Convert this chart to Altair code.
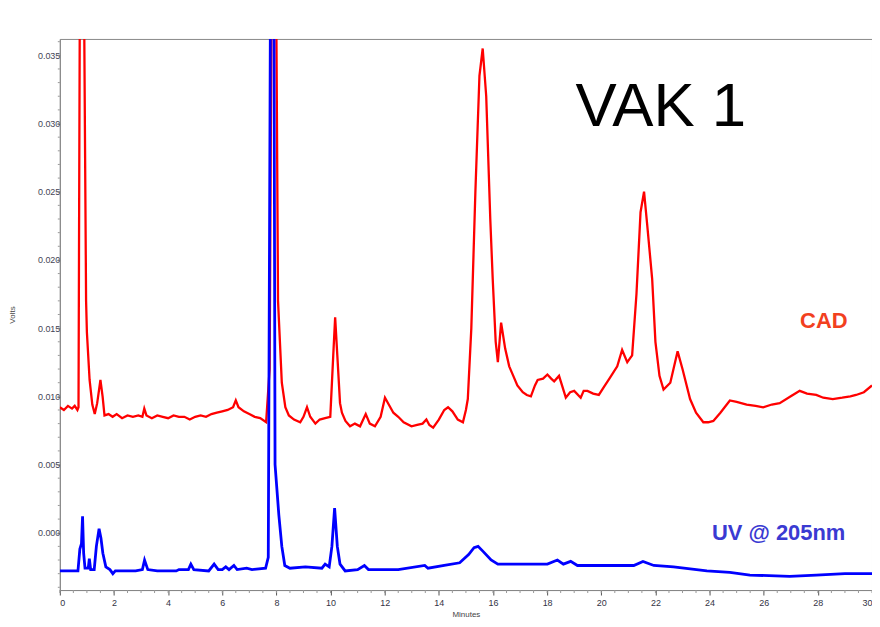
import altair as alt
import pandas as pd

# ---------------- data ----------------
cad_t = [0.0, 0.15, 0.3, 0.45, 0.55, 0.65, 0.69, 0.79, 0.97, 1.0, 1.1, 1.2, 1.29, 1.38, 1.5, 1.58, 1.65,
         1.8, 1.95, 2.1, 2.3, 2.5, 2.7, 2.9, 3.05, 3.12, 3.2, 3.4, 3.6, 3.8, 4.0, 4.2, 4.4, 4.6, 4.8,
         5.0, 5.2, 5.4, 5.6, 5.8, 6.0, 6.2, 6.4, 6.5, 6.6, 6.8, 7.0, 7.2, 7.4, 7.62, 7.75, 7.9, 8.06,
         8.2, 8.33, 8.46, 8.65, 8.88, 9.0, 9.13, 9.25, 9.44, 9.6, 9.8, 9.99, 10.1, 10.17, 10.25, 10.35,
         10.42, 10.55, 10.72, 10.9, 11.09, 11.3, 11.45, 11.64, 11.85, 12.01, 12.15, 12.32, 12.5, 12.7,
         12.99, 13.2, 13.4, 13.54, 13.65, 13.79, 14.0, 14.2, 14.34, 14.5, 14.7, 14.89, 15.0, 15.07,
         15.2, 15.35, 15.5, 15.62, 15.75, 15.9, 15.99, 16.1, 16.18, 16.3, 16.45, 16.6, 16.75, 16.9,
         17.1, 17.25, 17.4, 17.55, 17.65, 17.85, 18.01, 18.15, 18.26, 18.44, 18.55, 18.69, 18.85,
         19.0, 19.24, 19.35, 19.49, 19.7, 19.91, 20.1, 20.3, 20.59, 20.77, 20.96, 21.14, 21.3, 21.45,
         21.58, 21.7, 21.88, 22.0, 22.15, 22.3, 22.55, 22.82, 23.0, 23.28, 23.5, 23.77, 23.95, 24.14,
         24.4, 24.75, 25.0, 25.37, 25.7, 25.98, 26.3, 26.59, 27.0, 27.33, 27.6, 27.94, 28.2, 28.55,
         28.9, 29.2, 29.41, 29.7, 30.0]
cad_v = [0.0092, 0.0090, 0.0093, 0.0091, 0.0093, 0.0090, 0.0092, 0.0700, 0.0170, 0.0147, 0.0112,
         0.0094, 0.0087, 0.0095, 0.0112, 0.0100, 0.0086, 0.0087, 0.0085, 0.0087, 0.0084, 0.0086,
         0.0085, 0.0086, 0.0085, 0.0091, 0.0086, 0.0084, 0.0086, 0.0085, 0.0084, 0.0086, 0.0085,
         0.0085, 0.0083, 0.0085, 0.0086, 0.0085, 0.0087, 0.0088, 0.0089, 0.0090, 0.0092, 0.0097,
         0.0092, 0.0089, 0.0087, 0.0085, 0.0084, 0.0081, 0.0120, 0.0700, 0.0170, 0.0110, 0.0092,
         0.0086, 0.0083, 0.0081, 0.0085, 0.0092, 0.0085, 0.0080, 0.0083, 0.0084, 0.0085, 0.0130,
         0.0158, 0.0130, 0.0095, 0.0088, 0.0082, 0.0078, 0.0080, 0.0078, 0.0087, 0.0080, 0.0078,
         0.0085, 0.0099, 0.0094, 0.0088, 0.0085, 0.0081, 0.0078, 0.0079, 0.0080, 0.0083, 0.0079,
         0.0077, 0.0083, 0.0090, 0.0092, 0.0089, 0.0083, 0.0081, 0.0090, 0.0098, 0.0150, 0.0250,
         0.0335, 0.0355, 0.0320, 0.0230, 0.0186, 0.0140, 0.0125, 0.0154, 0.0135, 0.0122, 0.0115,
         0.0108, 0.0103, 0.0101, 0.0100, 0.0108, 0.0112, 0.0113, 0.0116, 0.0113, 0.0111, 0.0115,
         0.0108, 0.0099, 0.0103, 0.0104, 0.0099, 0.0104, 0.0104, 0.0102, 0.0101, 0.0107, 0.0113,
         0.0122, 0.0134, 0.0125, 0.0130, 0.0175, 0.0235, 0.0250, 0.0225, 0.0186, 0.0140, 0.0115,
         0.0105, 0.0110, 0.0133, 0.0120, 0.0098, 0.0088, 0.0081, 0.0081, 0.0082, 0.0088, 0.0097,
         0.0096, 0.0094, 0.0093, 0.0092, 0.0094, 0.0095, 0.0100, 0.0104, 0.0102, 0.0101, 0.0099,
         0.0098, 0.0099, 0.0100, 0.0101, 0.0103, 0.0108]

uv_t = [0.0, 0.3, 0.67, 0.74, 0.8, 0.84, 0.88, 0.93, 1.05, 1.09, 1.14, 1.27, 1.35, 1.45, 1.52, 1.59,
        1.7, 1.85, 1.96, 2.05, 2.3, 2.8, 3.05, 3.13, 3.25, 3.6, 4.3, 4.4, 4.75, 4.84, 4.95, 5.5, 5.7,
        5.85, 6.0, 6.13, 6.25, 6.43, 6.55, 6.9, 7.1, 7.6, 7.7, 7.86, 7.95, 8.09, 8.2, 8.31, 8.5,
        9.07, 9.68, 9.8, 9.95, 10.05, 10.15, 10.25, 10.35, 10.54, 11.0, 11.25, 11.4, 11.6, 12.5,
        13.48, 13.6, 14.2, 14.77, 15.1, 15.3, 15.45, 15.65, 15.93, 16.18, 16.67, 17.5, 18.01, 18.38,
        18.6, 18.87, 19.12, 20.22, 21.2, 21.54, 21.94, 22.67, 23.9, 24.75, 25.49, 26.96, 27.94,
        29.0, 30.0]
uv_v = [-0.0028, -0.0028, -0.0028, -0.0012, -0.0008, 0.0012, -0.0015, -0.0026, -0.0026, -0.0019,
        -0.0027, -0.0027, -0.0010, 0.0003, -0.0004, -0.0015, -0.0025, -0.0027, -0.0030, -0.0028,
        -0.0028, -0.0028, -0.0027, -0.0020, -0.0027, -0.0028, -0.0028, -0.0027, -0.0027, -0.0023,
        -0.0027, -0.0028, -0.0023, -0.0027, -0.0027, -0.0025, -0.0027, -0.0024, -0.0027, -0.0026,
        -0.0027, -0.0026, -0.0018, 0.0800, 0.0050, 0.0013, -0.0010, -0.0024, -0.0026, -0.0025,
        -0.0026, -0.0023, -0.0025, -0.0010, 0.0018, -0.0010, -0.0023, -0.0028, -0.0027, -0.0024,
        -0.0027, -0.0027, -0.0027, -0.0024, -0.0026, -0.0024, -0.0022, -0.0016, -0.0011, -0.0010,
        -0.0014, -0.0020, -0.0023, -0.0023, -0.0023, -0.0023, -0.0020, -0.0023, -0.0021, -0.0024,
        -0.0024, -0.0024, -0.0021, -0.0024, -0.0025, -0.0028, -0.0029, -0.0031, -0.0032, -0.0031,
        -0.0030, -0.0030]

x_ticks = list(range(0, 31, 2))
x_minor = [i * 0.5 for i in range(61)]
y_ticks = [0.0, 0.005, 0.010, 0.015, 0.020, 0.025, 0.030, 0.035]
y_minor = [round(-0.004 + i * 0.001, 3) for i in range(41)]

title_text = ["VAK 1"]
title_t = [22.2]
title_v = [0.0298]
cad_label = ["CAD"]
cad_label_t = [28.22]
cad_label_v = [0.0150]
uv_label = ["UV @ 205nm"]
uv_label_t = [26.55]
uv_label_v = [-0.0005]

# ---------------- chart ----------------
cad_df = pd.DataFrame({"t": cad_t, "v": cad_v})
uv_df = pd.DataFrame({"t": uv_t, "v": uv_v})

xscale = alt.Scale(domain=[0, 30], nice=False, zero=False)
yscale = alt.Scale(domain=[-0.0042, 0.0362], nice=False, zero=False)

FONT = "Liberation Sans"

x_axis = alt.Axis(values=x_ticks, format="d", tickSize=5, labelFontSize=9, labelColor="#334",
                  labelFont=FONT, domainColor="#888", tickColor="#555", grid=False,
                  labelPadding=4, title="Minutes", titleFont=FONT, titleFontSize=8,
                  titleFontWeight="normal", titleColor="#444", titleY=27,
                  titleBaseline="alphabetic")
y_axis = alt.Axis(values=y_ticks, format=".3f", tickSize=3, labelFontSize=9, labelColor="#445",
                  labelFont=FONT, domainColor="#888", tickColor="#555", grid=False,
                  labelPadding=-3, title="Volts", titleFont=FONT, titleFontSize=8,
                  titleFontWeight="normal", titleColor="#444", titleX=-43)


def X(field):
    return alt.X(field, scale=xscale, axis=x_axis, title="Minutes")


def Y(field):
    return alt.Y(field, scale=yscale, axis=y_axis, title="Volts")


# minor ticks drawn as short rules placed through the shared scales
x_minor_ticks = alt.Chart(pd.DataFrame({"t": x_minor})).mark_rule(color="#999", strokeWidth=1).encode(
    x=X("t:Q"), y=alt.value(553), y2=alt.value(556),
)
y_minor_ticks = alt.Chart(pd.DataFrame({"v": y_minor})).mark_rule(color="#999", strokeWidth=1).encode(
    y=Y("v:Q"), x=alt.value(-2), x2=alt.value(0),
)

cad_line = alt.Chart(cad_df).mark_line(color="#ff0000", strokeWidth=2.3, clip=True).encode(
    x=X("t:Q"), y=Y("v:Q"),
)
uv_line = alt.Chart(uv_df).mark_line(color="#0000ff", strokeWidth=2.8, clip=True).encode(
    x=X("t:Q"), y=Y("v:Q"),
)

title_mark = alt.Chart(pd.DataFrame({"t": title_t, "v": title_v, "s": title_text})).mark_text(
    font=FONT, fontSize=62, color="#000000", align="center", baseline="alphabetic"
).encode(x=X("t:Q"), y=Y("v:Q"), text="s:N")

cad_mark = alt.Chart(pd.DataFrame({"t": cad_label_t, "v": cad_label_v, "s": cad_label})).mark_text(
    font=FONT, fontSize=22, fontWeight="bold", color="#f2401e", align="center", baseline="alphabetic"
).encode(x=X("t:Q"), y=Y("v:Q"), text="s:N")

uv_mark = alt.Chart(pd.DataFrame({"t": uv_label_t, "v": uv_label_v, "s": uv_label})).mark_text(
    font=FONT, fontSize=22, fontWeight="bold", color="#3a3ad2", align="center", baseline="alphabetic"
).encode(x=X("t:Q"), y=Y("v:Q"), text="s:N")

chart = alt.layer(cad_line, uv_line, x_minor_ticks, y_minor_ticks, title_mark, cad_mark, uv_mark).properties(
    width=815, height=553,
    autosize=alt.AutoSizeParams(type="none"),
    padding={"left": 52, "top": 30, "right": 0, "bottom": 28},
    background="white",
).configure_view(stroke="#888", strokeWidth=1)

chart.save("out.html", embed_options={"renderer": "svg", "actions": False})
